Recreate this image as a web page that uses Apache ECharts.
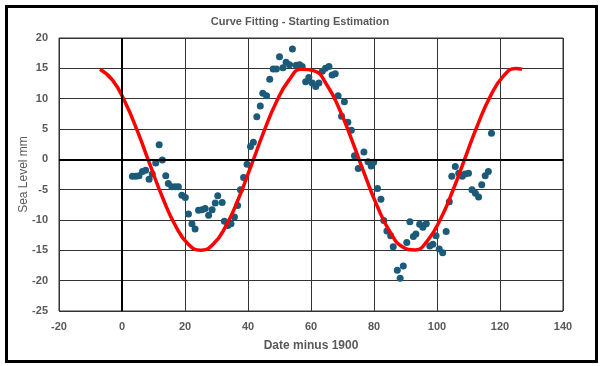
<!DOCTYPE html>
<html>
<head>
<meta charset="utf-8">
<script src="https://cdn.jsdelivr.net/npm/echarts@6/dist/echarts.min.js"></script>
<style>
html,body{margin:0;padding:0;background:#fff;}
#chart{width:600px;height:366px;}
</style>
</head>
<body>
<div id="chart"></div>
<script>
// Observed sea level (x = date minus 1900, y = mm)
const obsYear = [3.3,4.4,5.4,6.5,7.5,8.6,9.6,10.7,11.8,12.8,
  13.9,14.7,15.8,16.9,17.9,19.0,20.1,21.1,22.2,23.2,
  24.3,25.4,26.4,27.5,28.6,29.6,30.4,31.8,32.5,33.6,
  34.6,35.7,36.7,37.6,38.6,39.7,40.8,41.7,42.8,43.9,
  44.7,45.9,46.9,48.0,49.0,50.0,51.1,52.1,53.2,54.1,
  55.3,56.4,57.2,58.3,59.3,60.4,61.5,62.5,63.6,64.6,
  65.7,66.7,67.7,68.6,69.7,70.6,71.7,72.8,73.8,75.0,
  76.8,78.1,79.1,79.9,81.1,82.2,83.1,84.1,85.3,86.1,
  87.4,88.3,89.3,90.4,91.4,92.5,93.3,94.5,95.5,96.6,
  97.7,98.7,99.7,100.7,101.8,102.9,103.9,104.7,105.8,106.9,
  108.0,108.9,110.0,111.1,112.2,113.2,114.2,115.3,116.3,117.3];
const obsLevel = [-2.8,-2.8,-2.7,-2.0,-1.8,-3.3,-2.4,-0.6,2.4,-0.1,
  -2.7,-4.0,-4.5,-4.5,-4.5,-5.9,-6.3,-9.0,-10.6,-11.5,
  -8.4,-8.3,-8.1,-9.2,-8.3,-7.2,-6.0,-7.1,-10.2,-10.9,
  -10.6,-9.5,-7.6,-5.0,-3.0,-0.8,2.1,2.8,7.0,8.8,
  10.9,10.5,13.2,14.9,14.9,16.9,15.1,16.0,15.6,18.2,
  15.5,15.6,15.3,12.8,13.5,12.6,12.0,12.6,14.5,15.0,
  15.3,13.9,14.1,10.5,7.1,9.5,6.1,4.8,0.6,-1.5,
  1.2,-0.4,-1.1,-0.5,-4.8,-6.6,-10.1,-11.8,-12.6,-14.4,
  -18.3,-19.6,-17.6,-13.7,-10.3,-12.7,-12.3,-10.7,-11.2,-10.6,
  -14.3,-14.0,-12.6,-14.8,-15.4,-11.9,-7.0,-2.8,-1.2,-2.3,
  -2.8,-2.4,-2.3,-5.0,-5.6,-6.2,-4.2,-2.7,-2.0,4.3];

// Starting-estimate curve
const fitX = [-7,-3,1,5,9,13,17,21,25,29,33,37,41,45,49,53,57,61,65,69,73,77,81,85,89,93,97,101,105,109,113,117,121,125,127];
const fitY = [14.85,13.05,9.42,4.51,-1.05,-6.46,-10.97,-13.96,-15,-13.96,-10.97,-6.46,-1.05,4.51,9.44,13.05,14.85,14.59,12.30,8.30,3.14,-2.45,-7.70,-11.89,-14.41,-14.93,-13.38,-9.96,-5.18,0.34,5.81,10.47,13.68,14.98,14.85];

// Axis ticks
const xTicks = {min: -20, max: 140, step: 20};
const yTicks = {min: -25, max: 20, step: 5};

const titleText = 'Curve Fitting - Starting Estimation';
const xName = 'Date minus 1900';
const yName = 'Sea Level mm';

const FONT = "'Liberation Sans Narrow', 'Arial Narrow', 'Liberation Sans', sans-serif";
const TXT = '#595959';

const chart = echarts.init(document.getElementById('chart'), null, {renderer: 'canvas'});
chart.setOption({
  animation: false,
  backgroundColor: '#fff',
  title: {
    text: titleText, left: 'center', top: 11,
    textStyle: {fontFamily: FONT, fontSize: 11, fontWeight: 'bold', color: TXT}
  },
  graphic: [{
    type: 'rect', left: 4, top: 4, z: 100, silent: true,
    shape: {width: 590, height: 355},
    style: {fill: 'none', stroke: '#000', lineWidth: 3}
  }],
  grid: {left: 59, right: 37, top: 38, bottom: 55, show: true, borderColor: '#333', borderWidth: 1, containLabel: false},
  xAxis: {
    type: 'value', min: xTicks.min, max: xTicks.max, interval: xTicks.step,
    name: xName, nameLocation: 'middle', nameGap: 29,
    nameTextStyle: {fontFamily: FONT, fontSize: 12, fontWeight: 'bold', color: TXT},
    axisLine: {show: false}, axisTick: {show: false},
    axisLabel: {fontFamily: FONT, fontSize: 11, fontWeight: 'bold', color: TXT, margin: 10},
    splitLine: {show: true, lineStyle: {color: '#333', width: 1}}
  },
  yAxis: {
    type: 'value', min: yTicks.min, max: yTicks.max, interval: yTicks.step,
    name: yName, nameLocation: 'middle', nameGap: 29, nameMoveOverlap: false,
    nameTextStyle: {fontFamily: FONT, fontSize: 12, color: TXT},
    axisLine: {show: false}, axisTick: {show: false},
    axisLabel: {fontFamily: FONT, fontSize: 11, fontWeight: 'bold', color: TXT, margin: 11},
    splitLine: {show: true, lineStyle: {color: '#333', width: 1}}
  },
  series: [
    {
      type: 'scatter', name: 'Observed',
      data: obsYear.map((x, i) => [x, obsLevel[i]]),
      symbol: 'circle', symbolSize: 7,
      itemStyle: {color: '#1b5a78', opacity: 1},
      z: 3,
      markLine: {
        silent: true, symbol: 'none', label: {show: false},
        lineStyle: {color: '#000', width: 2, type: 'solid'},
        data: [{xAxis: 0}, {yAxis: 0}]
      }
    },
    {
      type: 'line', name: 'Estimate',
      data: fitX.map((x, i) => [x, fitY[i]]),
      smooth: 0.5, showSymbol: false, symbol: 'none',
      lineStyle: {color: '#ff0000', width: 3.5},
      z: 4
    }
  ]
});
</script>
</body>
</html>
